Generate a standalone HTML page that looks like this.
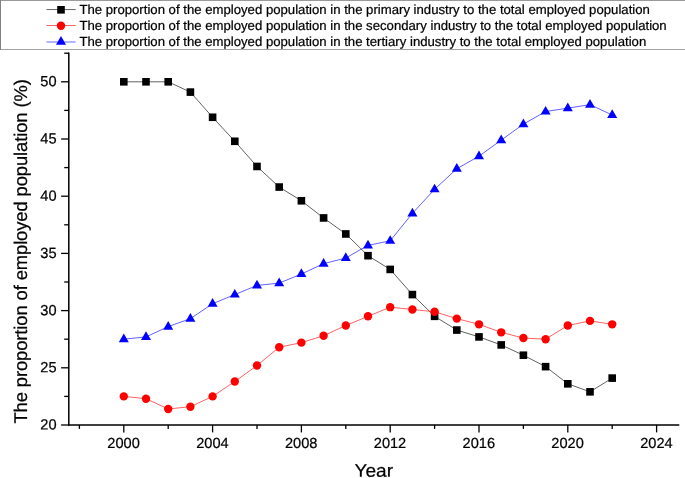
<!DOCTYPE html>
<html lang="en"><head><meta charset="utf-8"><title>Proportion of employed population by industry</title>
<style>html,body{margin:0;padding:0;background:#fff}body{width:685px;height:478px;overflow:hidden}</style></head>
<body>
<svg width="685" height="478" viewBox="0 0 685 478" text-rendering="geometricPrecision" style="display:block;font-family:'Liberation Sans',sans-serif">
<rect width="685" height="478" fill="#fff"/>
<style>text{stroke:#000;stroke-width:0.22px;paint-order:stroke}</style>
<path d="M0 0.5H685" stroke="#9a9a9a" stroke-width="1"/>
<path d="M0 49.5H685" stroke="#a2a2a2" stroke-width="1.1"/>
<path d="M0.5 0V50" stroke="#808080" stroke-width="1"/>
<g stroke="#000" stroke-width="1.5" fill="none" stroke-linecap="butt">
<path d="M68.8 52.45V425.75"/>
<path d="M68.05 425.0H679.3"/>
<path d="M61.10 425.00H68.8" stroke-width="1.3"/>
<path d="M64.20 396.40H68.8" stroke-width="1.3"/>
<path d="M61.10 367.80H68.8" stroke-width="1.3"/>
<path d="M64.20 339.20H68.8" stroke-width="1.3"/>
<path d="M61.10 310.60H68.8" stroke-width="1.3"/>
<path d="M64.20 282.00H68.8" stroke-width="1.3"/>
<path d="M61.10 253.40H68.8" stroke-width="1.3"/>
<path d="M64.20 224.80H68.8" stroke-width="1.3"/>
<path d="M61.10 196.20H68.8" stroke-width="1.3"/>
<path d="M64.20 167.60H68.8" stroke-width="1.3"/>
<path d="M61.10 139.00H68.8" stroke-width="1.3"/>
<path d="M64.20 110.40H68.8" stroke-width="1.3"/>
<path d="M61.10 81.80H68.8" stroke-width="1.3"/>
<path d="M64.20 53.20H68.8" stroke-width="1.3"/>
<path d="M79.40 425.0V428.90" stroke-width="1.3"/>
<path d="M123.80 425.0V432.40" stroke-width="1.3"/>
<path d="M168.20 425.0V428.90" stroke-width="1.3"/>
<path d="M212.60 425.0V432.40" stroke-width="1.3"/>
<path d="M257.00 425.0V428.90" stroke-width="1.3"/>
<path d="M301.40 425.0V432.40" stroke-width="1.3"/>
<path d="M345.80 425.0V428.90" stroke-width="1.3"/>
<path d="M390.20 425.0V432.40" stroke-width="1.3"/>
<path d="M434.60 425.0V428.90" stroke-width="1.3"/>
<path d="M479.00 425.0V432.40" stroke-width="1.3"/>
<path d="M523.40 425.0V428.90" stroke-width="1.3"/>
<path d="M567.80 425.0V432.40" stroke-width="1.3"/>
<path d="M612.20 425.0V428.90" stroke-width="1.3"/>
<path d="M656.60 425.0V432.40" stroke-width="1.3"/>
</g>
<g fill="#000">
<text transform="translate(56.6 429.55) rotate(0.03) scale(1 1.01)" font-size="14.6" text-anchor="end">20</text>
<text transform="translate(56.6 372.35) rotate(0.03) scale(1 1.01)" font-size="14.6" text-anchor="end">25</text>
<text transform="translate(56.6 315.15) rotate(0.03) scale(1 1.01)" font-size="14.6" text-anchor="end">30</text>
<text transform="translate(56.6 257.95) rotate(0.03) scale(1 1.01)" font-size="14.6" text-anchor="end">35</text>
<text transform="translate(56.6 200.75) rotate(0.03) scale(1 1.01)" font-size="14.6" text-anchor="end">40</text>
<text transform="translate(56.6 143.55) rotate(0.03) scale(1 1.01)" font-size="14.6" text-anchor="end">45</text>
<text transform="translate(56.6 86.35) rotate(0.03) scale(1 1.01)" font-size="14.6" text-anchor="end">50</text>
<text transform="translate(123.60 448.0) rotate(0.03) scale(1 1.0)" font-size="14.6" text-anchor="middle">2000</text>
<text transform="translate(212.40 448.0) rotate(0.03) scale(1 1.0)" font-size="14.6" text-anchor="middle">2004</text>
<text transform="translate(301.20 448.0) rotate(0.03) scale(1 1.0)" font-size="14.6" text-anchor="middle">2008</text>
<text transform="translate(390.00 448.0) rotate(0.03) scale(1 1.0)" font-size="14.6" text-anchor="middle">2012</text>
<text transform="translate(478.80 448.0) rotate(0.03) scale(1 1.0)" font-size="14.6" text-anchor="middle">2016</text>
<text transform="translate(567.60 448.0) rotate(0.03) scale(1 1.0)" font-size="14.6" text-anchor="middle">2020</text>
<text transform="translate(656.40 448.0) rotate(0.03) scale(1 1.0)" font-size="14.6" text-anchor="middle">2024</text>
</g>
<text transform="translate(373.75 476.7) rotate(0.03) scale(1.046 1)" font-size="18.25" text-anchor="middle">Year</text>
<text transform="translate(27.4 423.6) rotate(-90)" font-size="18.4" textLength="344.4" lengthAdjust="spacing">The proportion of employed population (%)</text>
<polyline points="123.80,81.80 146.00,81.80 168.20,81.80 190.40,92.10 212.60,117.26 234.80,141.29 257.00,166.46 279.20,187.05 301.40,200.78 323.60,217.94 345.80,233.95 368.00,255.69 390.20,269.42 412.40,294.58 434.60,316.32 456.80,330.05 479.00,336.91 501.20,344.92 523.40,355.22 545.60,366.66 567.80,383.82 590.00,391.82 612.20,378.10" fill="none" stroke="#000" stroke-width="0.62"/>
<g fill="#000"><rect x="120.00" y="78.00" width="7.6" height="7.6"/><rect x="142.20" y="78.00" width="7.6" height="7.6"/><rect x="164.40" y="78.00" width="7.6" height="7.6"/><rect x="186.60" y="88.30" width="7.6" height="7.6"/><rect x="208.80" y="113.46" width="7.6" height="7.6"/><rect x="231.00" y="137.49" width="7.6" height="7.6"/><rect x="253.20" y="162.66" width="7.6" height="7.6"/><rect x="275.40" y="183.25" width="7.6" height="7.6"/><rect x="297.60" y="196.98" width="7.6" height="7.6"/><rect x="319.80" y="214.14" width="7.6" height="7.6"/><rect x="342.00" y="230.15" width="7.6" height="7.6"/><rect x="364.20" y="251.89" width="7.6" height="7.6"/><rect x="386.40" y="265.62" width="7.6" height="7.6"/><rect x="408.60" y="290.78" width="7.6" height="7.6"/><rect x="430.80" y="312.52" width="7.6" height="7.6"/><rect x="453.00" y="326.25" width="7.6" height="7.6"/><rect x="475.20" y="333.11" width="7.6" height="7.6"/><rect x="497.40" y="341.12" width="7.6" height="7.6"/><rect x="519.60" y="351.42" width="7.6" height="7.6"/><rect x="541.80" y="362.86" width="7.6" height="7.6"/><rect x="564.00" y="380.02" width="7.6" height="7.6"/><rect x="586.20" y="388.02" width="7.6" height="7.6"/><rect x="608.40" y="374.30" width="7.6" height="7.6"/></g>
<polyline points="123.80,396.40 146.00,398.69 168.20,408.98 190.40,406.70 212.60,396.40 234.80,381.53 257.00,365.51 279.20,347.21 301.40,342.63 323.60,335.77 345.80,325.47 368.00,316.32 390.20,307.17 412.40,309.46 434.60,311.74 456.80,318.61 479.00,324.33 501.20,332.34 523.40,338.06 545.60,339.20 567.80,325.47 590.00,320.90 612.20,324.33" fill="none" stroke="#f00" stroke-width="0.62"/>
<g fill="#f00"><circle cx="123.80" cy="396.40" r="4.2"/><circle cx="146.00" cy="398.69" r="4.2"/><circle cx="168.20" cy="408.98" r="4.2"/><circle cx="190.40" cy="406.70" r="4.2"/><circle cx="212.60" cy="396.40" r="4.2"/><circle cx="234.80" cy="381.53" r="4.2"/><circle cx="257.00" cy="365.51" r="4.2"/><circle cx="279.20" cy="347.21" r="4.2"/><circle cx="301.40" cy="342.63" r="4.2"/><circle cx="323.60" cy="335.77" r="4.2"/><circle cx="345.80" cy="325.47" r="4.2"/><circle cx="368.00" cy="316.32" r="4.2"/><circle cx="390.20" cy="307.17" r="4.2"/><circle cx="412.40" cy="309.46" r="4.2"/><circle cx="434.60" cy="311.74" r="4.2"/><circle cx="456.80" cy="318.61" r="4.2"/><circle cx="479.00" cy="324.33" r="4.2"/><circle cx="501.20" cy="332.34" r="4.2"/><circle cx="523.40" cy="338.06" r="4.2"/><circle cx="545.60" cy="339.20" r="4.2"/><circle cx="567.80" cy="325.47" r="4.2"/><circle cx="590.00" cy="320.90" r="4.2"/><circle cx="612.20" cy="324.33" r="4.2"/></g>
<polyline points="123.80,339.20 146.00,336.91 168.20,326.62 190.40,318.61 212.60,303.74 234.80,294.58 257.00,285.43 279.20,283.14 301.40,273.99 323.60,263.70 345.80,257.98 368.00,245.39 390.20,240.82 412.40,213.36 434.60,189.34 456.80,168.74 479.00,156.16 501.20,140.14 523.40,124.13 545.60,111.54 567.80,108.11 590.00,104.68 612.20,114.98" fill="none" stroke="#00f" stroke-width="0.62"/>
<g fill="#00f"><path d="M123.80 333.58L128.80 342.24H118.80Z"/><path d="M146.00 331.29L151.00 339.95H141.00Z"/><path d="M168.20 320.99L173.20 329.65H163.20Z"/><path d="M190.40 312.98L195.40 321.64H185.40Z"/><path d="M212.60 298.11L217.60 306.77H207.60Z"/><path d="M234.80 288.96L239.80 297.62H229.80Z"/><path d="M257.00 279.81L262.00 288.47H252.00Z"/><path d="M279.20 277.52L284.20 286.18H274.20Z"/><path d="M301.40 268.37L306.40 277.03H296.40Z"/><path d="M323.60 258.07L328.60 266.73H318.60Z"/><path d="M345.80 252.35L350.80 261.01H340.80Z"/><path d="M368.00 239.77L373.00 248.43H363.00Z"/><path d="M390.20 235.19L395.20 243.85H385.20Z"/><path d="M412.40 207.74L417.40 216.40H407.40Z"/><path d="M434.60 183.71L439.60 192.37H429.60Z"/><path d="M456.80 163.12L461.80 171.78H451.80Z"/><path d="M479.00 150.54L484.00 159.20H474.00Z"/><path d="M501.20 134.52L506.20 143.18H496.20Z"/><path d="M523.40 118.50L528.40 127.16H518.40Z"/><path d="M545.60 105.92L550.60 114.58H540.60Z"/><path d="M567.80 102.49L572.80 111.15H562.80Z"/><path d="M590.00 99.06L595.00 107.72H585.00Z"/><path d="M612.20 109.35L617.20 118.01H607.20Z"/></g>
<path d="M46.5 9.55H75.7" stroke="#000" stroke-width="0.6"/>
<g fill="#000"><rect x="57.20" y="6.00" width="7.6" height="7.6"/></g>
<text x="79.4" y="14.10" font-size="13.17">The proportion of the employed population in the primary industry to the total employed population</text>
<path d="M46.5 25.5H75.7" stroke="#f00" stroke-width="0.6"/>
<g fill="#f00"><circle cx="61.00" cy="25.70" r="4.2"/></g>
<text x="79.4" y="30.00" font-size="13.17">The proportion of the employed population in the secondary industry to the total employed population</text>
<path d="M46.5 42.0H75.7" stroke="#00f" stroke-width="0.6"/>
<g fill="#00f"><path d="M61.00 36.08L66.00 44.74H56.00Z"/></g>
<text x="79.4" y="46.00" font-size="13.17">The proportion of the employed population in the tertiary industry to the total employed population</text>
</svg>
</body></html>
